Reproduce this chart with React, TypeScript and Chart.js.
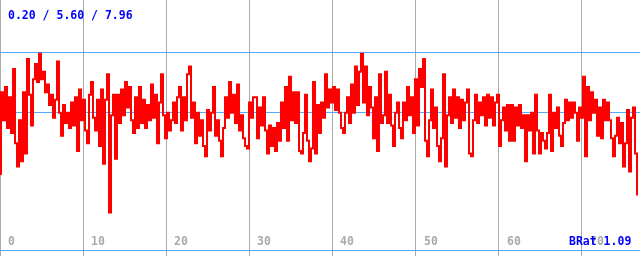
import React, { useEffect, useRef } from "react";
import { Chart, registerables } from "chart.js";

Chart.register(...registerables);

// Signal samples (one every 2 px of the original trace), split by section
const segA = [3.2, 6.4, 5.3, 6.6, 5.0, 6.2, 4.8, 7.3, 4.4, 3.5, 5.3, 3.7, 6.4, 4.0, 7.7, 6.3, 5.1, 6.9, 7.5, 6.8, 7.9, 6.9, 7.2, 6.4, 6.7, 5.9, 6.3, 5.4, 6.1, 7.6, 5.6, 4.7, 5.9, 5.2, 5.6, 5.0, 6.0, 5.1, 6.2, 4.1, 6.5, 5.3, 6.1, 4.9, 4.4, 6.3, 6.8, 5.4, 4.9, 6.1, 4.3, 6.5, 3.6, 6.1, 7.1, 1.7, 5.5, 6.3, 3.8, 6.3, 5.2, 6.5, 5.5, 6.8];
const segB = [5.8, 6.6, 5.3, 4.8, 6.2, 5.0, 6.6, 5.2, 6.1, 5.0, 5.9, 5.3, 6.7, 5.4, 6.3, 4.4, 6.0, 7.1, 5.5, 4.6, 5.6, 4.9, 5.3, 6.0, 5.2, 6.2, 6.6, 4.9, 6.2, 5.3, 7.1, 7.4, 5.4, 6.0, 4.4, 5.6, 4.7, 5.3, 4.3, 3.9, 5.7, 4.9, 5.6, 6.6, 4.7, 5.3, 4.5, 3.9, 5.0, 6.2, 5.4, 6.8, 5.6, 6.3, 5.2, 6.7, 4.9, 5.5, 4.6, 4.3, 4.2, 6.0, 5.4, 6.2];
const segC = [6.2, 4.6, 5.8, 5.1, 6.2, 4.9, 4.0, 5.1, 4.3, 5.0, 4.1, 5.2, 4.5, 6.0, 5.0, 6.6, 4.5, 7.0, 5.3, 6.4, 5.2, 6.4, 4.1, 4.0, 4.8, 6.3, 4.5, 3.7, 4.2, 6.8, 4.0, 5.9, 4.8, 6.0, 5.4, 7.1, 5.8, 6.5, 6.0, 6.6, 5.7, 6.5, 5.6, 5.0, 4.8, 5.6, 6.2, 5.2, 6.7, 5.6, 7.4, 5.9, 7.2, 7.9, 6.0, 7.4, 5.5, 6.6, 5.8, 4.6, 6.2, 4.1, 7.1, 5.2];
const segD = [5.5, 7.2, 5.2, 6.3, 5.1, 4.3, 5.6, 6.0, 5.0, 4.6, 6.0, 5.3, 6.6, 5.5, 6.2, 4.8, 6.9, 5.1, 7.3, 6.6, 7.7, 4.5, 3.9, 5.3, 6.5, 5.0, 5.8, 4.3, 3.7, 4.6, 7.1, 3.5, 5.5, 6.2, 5.2, 6.5, 5.4, 6.2, 5.0, 6.1, 5.3, 6.0, 6.5, 4.0, 3.9, 5.3, 6.3, 5.2, 6.0, 5.5, 6.2, 5.1, 6.3, 5.4, 6.2, 5.1, 6.0, 6.3, 4.3, 5.3, 5.8, 4.9, 5.9, 4.5];
const segE = [5.9, 4.5, 5.8, 5.1, 5.9, 5.0, 5.5, 3.7, 5.5, 4.9, 5.6, 4.0, 6.3, 4.9, 4.0, 4.8, 4.5, 4.2, 4.8, 6.3, 4.1, 5.6, 5.0, 5.8, 4.7, 4.3, 5.2, 6.1, 5.3, 6.0, 5.4, 6.0, 5.6, 4.5, 5.8, 5.4, 7.0, 3.9, 6.6, 5.3, 6.4, 5.6, 6.1, 4.7, 5.8, 4.6, 6.1, 5.3, 6.0, 5.3, 4.6, 3.9, 4.7, 5.4, 4.4, 5.2, 3.5, 4.4, 5.7, 3.3, 5.4, 5.8, 4.0, 2.4];

const X_MAX = 77;
const xTicks = [0, 10, 20, 30, 40, 50, 60, 70];
const refLines = [0.2, 5.6, 7.96]; // min / avg / max
const headerText = "0.20 / 5.60 / 7.96";
const cornerText = "BRat 1.09";

const FONT = "bold 11.5px 'DejaVu Sans Mono', monospace";

export default function App() {
  const ref = useRef<HTMLCanvasElement | null>(null);

  useEffect(() => {
    const values = [...segA, ...segB, ...segC, ...segD, ...segE];
    const step = X_MAX / values.length;
    const points = values.map((v, i) => ({ x: i * step, y: v }));

    const textPlugin = {
      id: "texts",
      afterDraw(chart: any) {
        const ctx = chart.ctx;
        const xs = chart.scales.x;
        ctx.save();
        ctx.font = FONT;
        ctx.textBaseline = "alphabetic";
        ctx.textAlign = "left";
        ctx.fillStyle = "#aaaaaa";
        xTicks.forEach((t) => {
          ctx.fillText(String(t), Math.round(xs.getPixelForValue(t)) + 8, 245);
        });
        ctx.fillStyle = "#0000ff";
        ctx.fillText(headerText, 8, 19);
        ctx.fillText(cornerText, 569, 245);
        ctx.restore();
      },
    };

    const chart = new Chart(ref.current as HTMLCanvasElement, {
      type: "line",
      data: {
        datasets: [
          {
            data: points,
            borderColor: "#ff0000",
            borderWidth: 2,
            stepped: "middle",
            pointRadius: 0,
            tension: 0,
            fill: false,
          },
        ],
      },
      options: {
        animation: false,
        responsive: false,
        devicePixelRatio: 1,
        parsing: false,
        normalized: true,
        layout: { padding: 0 },
        plugins: { legend: { display: false }, tooltip: { enabled: false } },
        scales: {
          x: {
            type: "linear",
            min: 0,
            max: X_MAX,
            z: 1,
            afterBuildTicks: (axis: any) => {
              axis.ticks = xTicks.map((v) => ({ value: v }));
            },
            ticks: { display: false },
            grid: { color: "#aaaaaa", lineWidth: 1, drawTicks: false },
            border: { display: false },
          },
          y: {
            type: "linear",
            min: 0,
            max: 10,
            z: 1,
            afterBuildTicks: (axis: any) => {
              axis.ticks = refLines.map((v) => ({ value: v }));
            },
            ticks: { display: false },
            grid: { color: "#55aaff", lineWidth: 1, drawTicks: false },
            border: { display: false },
          },
        },
      },
      plugins: [textPlugin],
    });
    return () => chart.destroy();
  }, []);

  return (
    <div style={{ position: "fixed", left: 0, top: 0, width: 640, height: 256, background: "#ffffff" }}>
      <canvas ref={ref} width={640} height={256} style={{ display: "block" }} />
    </div>
  );
}
